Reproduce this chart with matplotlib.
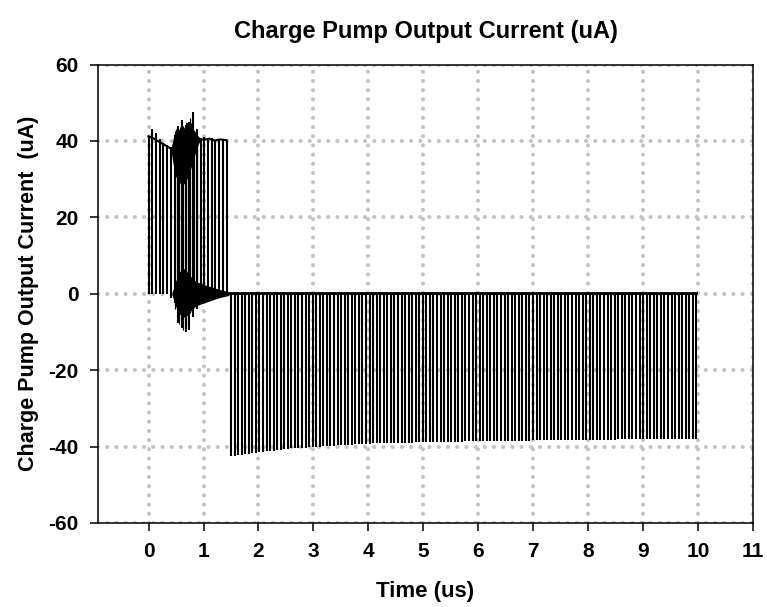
import numpy as np
import matplotlib
matplotlib.use('Agg')
import matplotlib.pyplot as plt

# --- data (time in us, current in uA) ---
# up pulses (start of lock acquisition)
pos_start, pos_end, n_pos = 0.0, 1.42, 22
pos_top = [41.2, 43.0, 42.2, 40.5, 39.5, 39.0, 38.3, 41.5, 43.9, 45.6, 44.3,
           45.0, 47.5, 43.0, 40.8, 41.0, 40.3, 40.8, 40.0, 40.6, 40.2, 40.0]
pos_bottom = [0, 0, 0, 0, 0, 0, -1.0, -2.4, -7.6, -9.0, -10.0,
              -9.5, -6.0, -4.0, -2.5, -2.0, -1.5, -1.0, -0.5, -0.3, 0, 0]

# extra strokes made by the ringing between the pulses
stroke_t = [0.49, 0.56, 0.62, 0.69, 0.75, 0.82, 0.88]
stroke_lo = [-4.0, -8.0, -9.5, -8.5, -5.0, -3.0, -2.0]
stroke_hi = [36.0, 42.0, 44.0, 45.0, 46.0, 42.0, 40.5]

# upper level of the up pulses
top_t = [0.0, 0.1, 0.2, 0.3, 0.44, 0.9, 1.0, 1.1, 1.2, 1.3, 1.42]
top_v = [41.2, 40.6, 39.7, 38.9, 37.7, 40.5, 40.3, 40.6, 40.1, 40.4, 40.2]

# ringing around the upper level
ring_top_t = [0.42, 0.46, 0.50, 0.55, 0.60, 0.65, 0.70, 0.75, 0.80, 0.85, 0.90, 0.95]
ring_top_hi = [38.0, 40.5, 43.0, 42.5, 44.0, 43.0, 44.5, 45.0, 43.0, 42.0, 41.0, 40.5]
ring_top_lo = [37.5, 34.0, 31.0, 29.5, 28.8, 29.0, 30.5, 32.5, 35.0, 37.5, 39.5, 40.2]

# ringing around zero
ring_zero_t = [0.44, 0.50, 0.56, 0.63, 0.70, 0.78, 0.86, 0.95, 1.05, 1.15, 1.25, 1.35, 1.45]
ring_zero_hi = [0.3, 3.0, 5.5, 6.5, 5.5, 4.0, 3.0, 2.5, 2.0, 1.6, 1.1, 0.7, 0.4]
ring_zero_lo = [-0.3, -3.0, -5.0, -6.0, -5.5, -4.0, -3.0, -2.5, -2.0, -1.5, -1.0, -0.6, -0.3]

# down pulses (after lock)
neg_start, neg_end, n_neg = 1.50, 9.97, 132
neg_t = [1.5, 2.0, 2.6, 3.5, 4.2, 6.0, 8.0, 10.0]
neg_depth = [-42.5, -41.5, -40.5, -39.6, -39.1, -38.6, -38.2, -38.0]
baseline = 0.3

# --- figure ---
plt.rcParams['font.family'] = ['Liberation Sans', 'DejaVu Sans']
plt.rcParams['font.weight'] = 'bold'
plt.rcParams['axes.unicode_minus'] = False

fig = plt.figure(figsize=(7.67, 6.07), dpi=100)
ax = fig.add_axes([0.1278, 0.1384, 0.8539, 0.7553])

ink = 'black'
lw = 1.5

# up pulses
pos_times = np.linspace(pos_start, pos_end, n_pos)
ax.vlines(pos_times, pos_bottom, pos_top, color=ink, lw=lw)
ax.vlines(stroke_t, stroke_lo, stroke_hi, color=ink, lw=0.9)
ax.plot(top_t, top_v, color=ink, lw=lw)
ax.fill_between(ring_top_t, ring_top_lo, ring_top_hi, color=ink, lw=1.0)
ax.fill_between(ring_zero_t, ring_zero_lo, ring_zero_hi, color=ink, lw=1.0)

# down pulses
neg_times = np.linspace(neg_start, neg_end, n_neg)
depth = np.interp(neg_times, neg_t, neg_depth)
ax.vlines(neg_times, baseline, depth, color=ink, lw=lw)
ax.plot([pos_end, neg_end], [baseline, baseline], color=ink, lw=2.0)

# axes styling
ax.set_xlim(-0.92, 11)
ax.set_ylim(-60, 60)
ax.set_xticks(range(0, 12))
ax.set_yticks(range(-60, 61, 20))
ax.set_axisbelow(True)
ax.grid(True, color='#c4c4c4', linestyle=(0, (0.01, 2.2)), linewidth=3.0,
        dash_capstyle='round')
for s in ax.spines.values():
    s.set_linewidth(1.1)
ax.tick_params(direction='out', length=6, width=1.1, labelsize=15, pad=8)

ax.set_title('Charge Pump Output Current (uA)', fontsize=17, fontweight='bold', pad=19)
ax.set_xlabel('Time (us)', fontsize=16, fontweight='bold', labelpad=14)
ax.set_ylabel('Charge Pump Output Current  (uA)', fontsize=15.5, fontweight='bold', labelpad=7)

fig.savefig('out.png', dpi=100)
